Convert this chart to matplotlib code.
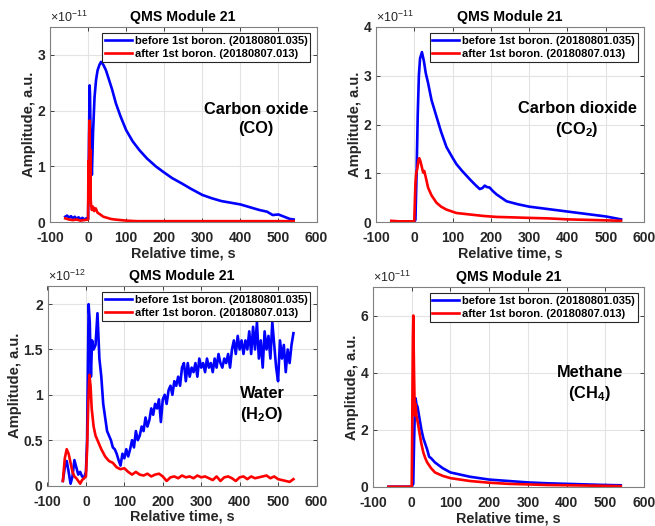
import matplotlib
matplotlib.use("Agg")
import matplotlib.pyplot as plt
import numpy as np

plt.rcParams['font.family'] = ['Liberation Sans', 'DejaVu Sans']
plt.rcParams['mathtext.fontset'] = 'custom'
plt.rcParams['mathtext.rm'] = 'Liberation Sans'
plt.rcParams['mathtext.bf'] = 'Liberation Sans:bold'
plt.rcParams['axes.unicode_minus'] = False

LEG_BEFORE = "before 1st boron. (20180801.035)"
LEG_AFTER = "after 1st boron. (20180807.013)"
TITLE = "QMS Module 21"
XLABEL = "Relative time, s"
YLABEL = "Amplitude, a.u."

# ---------------- CO (x1e-11) ----------------
co_before_t = [-60, -55, -50, -45, -40, -35, -30, -25, -20, -15, -10, -5, 0, 2, 4, 5, 7, 10, 13, 17, 21, 25, 30, 34, 40, 47, 55, 63, 73, 85, 100, 117, 135, 155, 178, 200, 221, 245, 270, 300, 325, 350, 375, 400, 425, 450, 470, 485, 500, 515, 530, 540]
co_before_v = [0.1, 0.12, 0.08, 0.11, 0.07, 0.1, 0.06, 0.09, 0.05, 0.08, 0.05, 0.07, 0.06, 1.2, 2.45, 2.3, 1.4, 0.85, 1.6, 2.24, 2.55, 2.72, 2.82, 2.87, 2.82, 2.72, 2.55, 2.38, 2.13, 1.9, 1.65, 1.45, 1.29, 1.14, 1.0, 0.89, 0.79, 0.7, 0.6, 0.49, 0.43, 0.38, 0.35, 0.32, 0.27, 0.22, 0.19, 0.13, 0.14, 0.1, 0.06, 0.05]
co_after_t = [-60, -50, -40, -30, -20, -10, 0, 1, 2, 3, 4, 5, 6, 7, 8, 10, 13, 16, 20, 25, 30, 40, 50, 60, 70, 85, 100, 130, 160, 200, 250, 300, 350, 400, 450, 500, 540]
co_after_v = [0.07, 0.05, 0.04, 0.05, 0.03, 0.04, 0.05, 1.1, 0.4, 1.6, 1.82, 0.6, 1.3, 0.4, 0.3, 0.22, 0.28, 0.2, 0.25, 0.17, 0.15, 0.1, 0.08, 0.06, 0.05, 0.04, 0.03, 0.02, 0.02, 0.02, 0.02, 0.02, 0.02, 0.02, 0.02, 0.02, 0.02]

# ---------------- CO2 (x1e-11) ----------------
co2_before_t = [-60, -40, -20, 0, 3, 6, 9, 12, 15, 20, 25, 30, 36, 45, 58, 70, 84, 100, 110, 125, 145, 160, 171, 178, 184, 190, 197, 205, 215, 228, 241, 270, 300, 350, 400, 450, 500, 540]
co2_before_v = [0.02, 0.02, 0.02, 0.02, 0.05, 1.0, 2.2, 3.0, 3.35, 3.48, 3.3, 3.05, 2.85, 2.5, 2.16, 1.85, 1.54, 1.32, 1.19, 1.05, 0.88, 0.76, 0.68, 0.7, 0.75, 0.72, 0.71, 0.64, 0.57, 0.5, 0.43, 0.37, 0.32, 0.27, 0.22, 0.17, 0.12, 0.06]
co2_after_t = [-60, -40, -20, 0, 1, 3, 5, 8, 11, 13, 16, 20, 23, 26, 30, 36, 45, 58, 70, 84, 110, 145, 180, 215, 260, 300, 350, 400, 450, 500, 540]
co2_after_v = [0.03, 0.02, 0.02, 0.02, 0.3, 0.8, 1.0, 1.1, 1.28, 1.31, 1.25, 1.12, 1.02, 1.05, 0.92, 0.71, 0.55, 0.4, 0.32, 0.26, 0.19, 0.16, 0.13, 0.11, 0.1, 0.09, 0.08, 0.06, 0.05, 0.04, 0.03]

# ---------------- H2O (x1e-12) ----------------
h2o_before_t = [-60, -55, -50, -45, -40, -35, -30, -25, -20, -15, -10, -5, 0, 3, 7, 10, 13, 16, 20, 25, 30, 35, 40, 45, 50, 55, 60, 65, 70, 75, 80, 85, 90, 95, 100, 105, 110, 115, 120, 125, 130, 135, 140, 145, 150, 155, 160, 165, 170, 175, 180, 185, 190, 195, 200, 205, 210, 215, 220, 225, 230, 235, 240, 245, 250, 255, 260, 265, 270, 275, 280, 285, 290, 295, 300, 305, 310, 315, 320, 325, 330, 335, 340, 345, 350, 355, 360, 365, 370, 375, 380, 385, 390, 395, 400, 405, 410, 415, 420, 425, 430, 435, 440, 445, 450, 455, 460, 465, 470, 475, 480, 485, 490, 495, 500, 505, 510, 515, 520, 525, 530, 535, 540]
h2o_before_v = [0.05, 0.2, 0.27, 0.15, 0.02, 0.1, 0.28, 0.2, 0.12, 0.15, 0.1, 0.08, 0.15, 0.5, 2.0, 1.8, 1.2, 1.6, 1.5, 1.55, 1.9, 1.4, 1.2, 0.9, 0.75, 0.6, 0.55, 0.5, 0.42, 0.4, 0.35, 0.28, 0.22, 0.35, 0.3, 0.4, 0.32, 0.4, 0.5, 0.42, 0.6, 0.5, 0.55, 0.65, 0.6, 0.75, 0.65, 0.72, 0.85, 0.78, 0.9, 0.85, 0.95, 0.7, 0.95, 1.0, 0.9, 1.05, 1.1, 1.0, 1.15, 1.1, 1.2, 1.1, 1.3, 1.35, 1.15, 1.35, 1.2, 1.3, 1.25, 1.35, 1.2, 1.4, 1.3, 1.35, 1.25, 1.4, 1.3, 1.35, 1.25, 1.4, 1.3, 1.45, 1.35, 1.3, 1.4, 1.35, 1.45, 1.3, 1.5, 1.6, 1.45, 1.65, 1.5, 1.6, 1.45, 1.6, 1.5, 1.7, 1.45, 1.75, 1.5, 1.8, 1.4, 1.6, 1.3, 1.7, 1.5, 1.65, 1.4, 1.8, 1.55, 1.3, 1.15, 1.6, 1.4, 1.55, 1.25, 1.5, 1.35, 1.55, 1.68]
h2o_after_t = [-60, -55, -50, -45, -40, -35, -30, -25, -20, -15, -10, -5, 0, 3, 6, 9, 12, 15, 20, 25, 30, 40, 50, 60, 70, 80, 90, 100, 110, 120, 130, 140, 150, 160, 170, 180, 190, 200, 210, 220, 230, 240, 250, 260, 270, 280, 290, 300, 310, 320, 330, 340, 350, 360, 370, 380, 390, 400, 410, 420, 430, 440, 450, 460, 470, 480, 490, 500, 510, 520, 530, 540]
h2o_after_v = [0.05, 0.3, 0.4, 0.35, 0.25, 0.15, 0.1, 0.08, 0.05, 0.02, 0.06, 0.08, 0.1, 0.4, 0.9, 1.22, 1.1, 0.85, 0.65, 0.55, 0.5, 0.4, 0.32, 0.27, 0.25, 0.2, 0.18, 0.19, 0.15, 0.12, 0.15, 0.12, 0.11, 0.13, 0.1, 0.12, 0.13, 0.1, 0.05, 0.09, 0.1, 0.08, 0.11, 0.09, 0.1, 0.08, 0.11, 0.09, 0.1, 0.08, 0.06, 0.1, 0.05, 0.09, 0.1, 0.08, 0.05, 0.09, 0.1, 0.07, 0.1, 0.08, 0.09, 0.1, 0.11, 0.08, 0.1, 0.07, 0.06, 0.05, 0.04, 0.07]

# ---------------- CH4 (x1e-11) ----------------
ch4_before_t = [-60, -40, -20, 0, 4, 6, 8, 10, 12, 15, 20, 25, 30, 35, 40, 45, 50, 60, 80, 100, 150, 200, 250, 300, 350, 400, 450, 500, 540]
ch4_before_v = [0.0, 0.0, 0.0, 0.0, 0.1, 1.5, 2.6, 3.1, 2.9, 2.8, 2.4, 2.0, 1.7, 1.5, 1.3, 1.05, 1.0, 0.85, 0.65, 0.5, 0.35, 0.25, 0.2, 0.15, 0.12, 0.1, 0.08, 0.06, 0.05]
ch4_after_t = [-60, -40, -20, 0, 1, 2, 3, 4, 5, 6, 8, 10, 12, 15, 20, 25, 30, 35, 40, 50, 60, 80, 100, 150, 200, 250, 300, 350, 400, 450, 500, 540]
ch4_after_v = [0.0, 0.0, 0.0, 0.0, 1.5, 3.5, 5.2, 6.0, 5.0, 4.0, 2.5, 2.9, 2.5, 2.3, 1.9, 1.5, 1.2, 1.0, 0.85, 0.65, 0.5, 0.38, 0.3, 0.2, 0.14, 0.1, 0.08, 0.06, 0.05, 0.04, 0.03, 0.02]

W, H = 655, 526
fig = plt.figure(figsize=(W / 100, H / 100), dpi=100)

def px_axes(x0, x1, ytop, ybot):
    return fig.add_axes([x0 / W, 1 - ybot / H, (x1 - x0) / W, (ybot - ytop) / H])

TXT = '#262626'
panels = [
    dict(box=(50, 316.5, 26.7, 222.3), ylim=3.5, yt=[0, 1, 2, 3], ytl=['0', '1', '2', '3'], exp='-11',
         b=(co_before_t, co_before_v), a=(co_after_t, co_after_v),
         label='Carbon oxide\n(CO)', lpos=(441, 1.85)),
    dict(box=(376, 644, 26.7, 222.3), ylim=4, yt=[0, 1, 2, 3, 4], ytl=['0', '1', '2', '3', '4'], exp='-11',
         b=(co2_before_t, co2_before_v), a=(co2_after_t, co2_after_v),
         label='Carbon dioxide\n(CO$_\\mathbf{2}$)', lpos=(425, 2.1)),
    dict(box=(47.5, 316.5, 286, 485.5), ylim=2.2, yt=[0, 0.5, 1, 1.5, 2], ytl=['0', '0.5', '1', '1.5', '2'], exp='-12',
         b=(h2o_before_t, h2o_before_v), a=(h2o_after_t, h2o_after_v),
         label='Water\n(H$_\\mathbf{2}$O)', lpos=(458, 0.89)),
    dict(box=(373, 644, 287, 486.7), ylim=7, yt=[0, 2, 4, 6], ytl=['0', '2', '4', '6'], exp='-11',
         b=(ch4_before_t, ch4_before_v), a=(ch4_after_t, ch4_after_v),
         label='Methane\n(CH$_\\mathbf{4}$)', lpos=(460, 3.6)),
]

for p in panels:
    ax = px_axes(*p['box'])
    ax.plot(p['b'][0], p['b'][1], color='#0000ff', lw=1.9, label=LEG_BEFORE)
    ax.plot(p['a'][0], p['a'][1], color='#ff0000', lw=1.9, label=LEG_AFTER)
    ax.set_xlim(-100, 600)
    ax.set_ylim(0, p['ylim'])
    ax.set_xticks([-100, 0, 100, 200, 300, 400, 500, 600])
    ax.set_yticks(p['yt'])
    ax.set_yticklabels(p['ytl'])
    ax.grid(True, color='#e3e3e3', lw=0.8)
    ax.set_axisbelow(True)
    ax.tick_params(direction='in', length=3, width=0.6, colors=TXT, labelsize=10,
                   top=True, right=True)
    ax.tick_params(axis='x', pad=6.5)
    ax.tick_params(axis='y', pad=3.5)
    for lab in ax.get_xticklabels() + ax.get_yticklabels():
        lab.set_fontweight('bold')
    for s in ax.spines.values():
        s.set_color('#808080')
        s.set_linewidth(0.8)
    ax.set_title(TITLE, fontsize=10.2, fontweight='bold', color='black', pad=4)
    ax.set_xlabel(XLABEL, fontsize=10.4, fontweight='bold', color=TXT, labelpad=1)
    ax.set_ylabel(YLABEL, fontsize=10.6, fontweight='bold', color=TXT, labelpad=1)
    ax.text(0.0, 1.01, r'$\times10^{' + p['exp'] + '}$', transform=ax.transAxes,
            fontsize=9, color=TXT, ha='left', va='bottom')
    leg = ax.legend(loc='upper right', fontsize=8, frameon=True, fancybox=False,
                    handlelength=2.4, handletextpad=0.3, borderpad=0.25,
                    labelspacing=0.3, borderaxespad=0.55)
    leg.get_frame().set_edgecolor('#262626')
    leg.get_frame().set_linewidth(0.8)
    leg.get_frame().set_alpha(1)
    for t in leg.get_texts():
        t.set_fontweight('bold')
    ax.text(p['lpos'][0], p['lpos'][1], p['label'], fontsize=11.8, fontweight='bold',
            ha='center', va='center', multialignment='center', color='black', linespacing=1.3)

fig.savefig('out.png', dpi=100)
